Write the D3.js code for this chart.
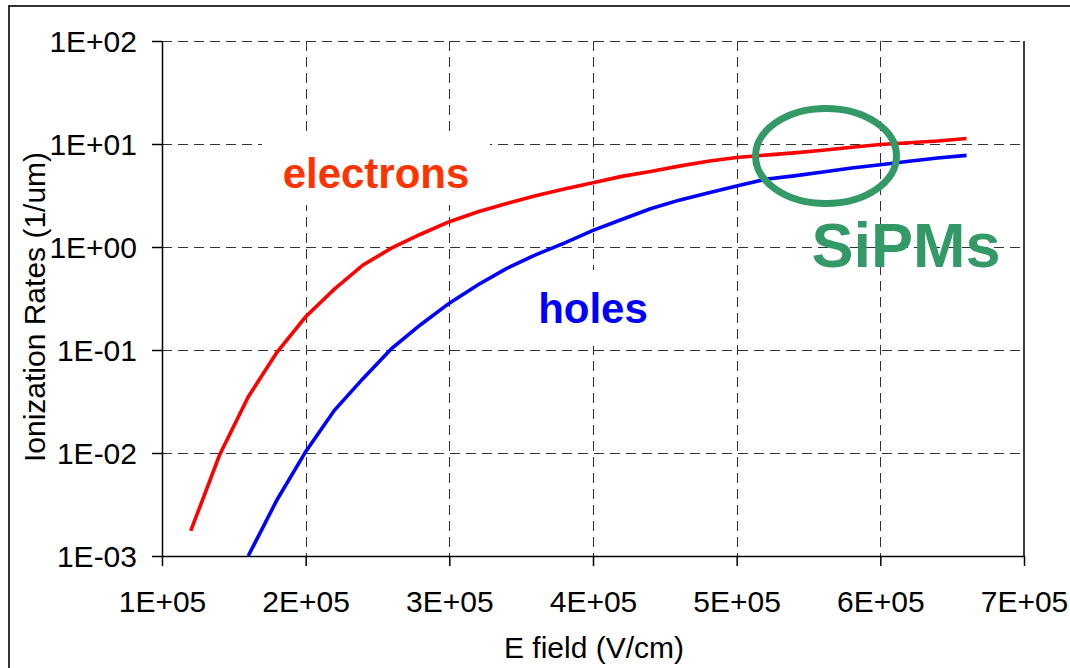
<!DOCTYPE html>
<html>
<head>
<meta charset="utf-8">
<script src="https://cdn.jsdelivr.net/npm/d3@7"></script>
<style>
  html, body { margin: 0; padding: 0; background: #fff; }
  svg { display: block; font-family: "Liberation Sans", Arial, sans-serif; }
</style>
</head>
<body>
<svg id="chart" width="1070" height="668"></svg>
<script>
// Electric field samples (V/cm)
const fieldElectrons = [1.2e5, 1.4e5, 1.6e5, 1.8e5, 2.0e5, 2.2e5, 2.4e5, 2.6e5, 2.8e5, 3.0e5,
  3.2e5, 3.4e5, 3.6e5, 3.8e5, 4.0e5, 4.2e5, 4.4e5, 4.6e5, 4.8e5, 5.0e5,
  5.2e5, 5.4e5, 5.6e5, 5.8e5, 6.0e5, 6.2e5, 6.4e5, 6.6e5];
// Electron impact ionization rate (1/um)
const rateElectrons = [1.75e-3, 9.5e-3, 0.035, 0.095, 0.21, 0.39, 0.67, 0.98, 1.33, 1.76,
  2.2, 2.65, 3.15, 3.65, 4.2, 4.85, 5.4, 6.1, 6.8, 7.4,
  7.8, 8.2, 8.7, 9.3, 9.9, 10.3, 10.7, 11.3];

const fieldHoles = [1.6e5, 1.8e5, 2.0e5, 2.2e5, 2.4e5, 2.6e5, 2.8e5, 3.0e5,
  3.2e5, 3.4e5, 3.6e5, 3.8e5, 4.0e5, 4.2e5, 4.4e5, 4.6e5, 4.8e5, 5.0e5,
  5.2e5, 5.4e5, 5.6e5, 5.8e5, 6.0e5, 6.2e5, 6.4e5, 6.6e5];
// Hole impact ionization rate (1/um)
const rateHoles = [1.0e-3, 3.5e-3, 0.0103, 0.026, 0.053, 0.104, 0.176, 0.285,
  0.43, 0.62, 0.84, 1.09, 1.45, 1.85, 2.35, 2.85, 3.35, 3.9,
  4.55, 4.9, 5.35, 5.85, 6.3, 6.8, 7.3, 7.75];

const xTicks = [1e5, 2e5, 3e5, 4e5, 5e5, 6e5, 7e5];
const xTickLabels = ["1E+05", "2E+05", "3E+05", "4E+05", "5E+05", "6E+05", "7E+05"];
const yTicks = [1e-3, 1e-2, 1e-1, 1e0, 1e1, 1e2];
const yTickLabels = ["1E-03", "1E-02", "1E-01", "1E+00", "1E+01", "1E+02"];

const svg = d3.select("#chart");
const plotLeft = 162, plotRight = 1024, plotTop = 41, plotBottom = 556;

const x = d3.scaleLinear().domain([1e5, 7e5]).range([plotLeft, plotRight]);
const y = d3.scaleLog().domain([1e-3, 1e2]).range([plotBottom, plotTop]);

// Outer frame
svg.append("rect")
  .attr("x", 9).attr("y", 6).attr("width", 1080).attr("height", 700)
  .attr("fill", "none").attr("stroke", "#333").attr("stroke-width", 2);

// Dashed grid
const grid = svg.append("g").attr("stroke", "#333").attr("stroke-width", 1)
  .attr("stroke-dasharray", "10,6").attr("shape-rendering", "crispEdges");
grid.selectAll("line.h").data(yTicks.slice(1)).join("line")
  .attr("class", "h")
  .attr("x1", plotLeft).attr("x2", plotRight)
  .attr("y1", d => Math.round(y(d)) + 0.5).attr("y2", d => Math.round(y(d)) + 0.5);
grid.selectAll("line.v").data(xTicks.slice(1, -1)).join("line")
  .attr("class", "v")
  .attr("x1", d => Math.round(x(d)) + 0.5).attr("x2", d => Math.round(x(d)) + 0.5)
  .attr("y1", plotTop).attr("y2", plotBottom);

// White backgrounds of the curve labels
svg.append("rect").attr("x", 262).attr("y", 137).attr("width", 228).attr("height", 68).attr("fill", "#fff");
svg.append("rect").attr("x", 520).attr("y", 270).attr("width", 146).attr("height", 76).attr("fill", "#fff");

// Axes
const xAxis = d3.axisBottom(x).tickValues(xTicks)
  .tickFormat((d, i) => xTickLabels[i]).tickSize(10).tickSizeOuter(0).tickPadding(24);
const gx = svg.append("g").attr("transform", `translate(0,${plotBottom})`).call(xAxis);
const yAxis = d3.axisLeft(y).tickValues(yTicks)
  .tickFormat((d, i) => yTickLabels[i]).tickSize(10).tickSizeOuter(0).tickPadding(15);
const gy = svg.append("g").attr("transform", `translate(${plotLeft},0)`).call(yAxis);
[gx, gy].forEach(g => {
  g.selectAll("path, line").attr("stroke", "#000").attr("stroke-width", 1.5);
  g.selectAll("text").attr("fill", "#000").attr("font-size", 30)
    .attr("font-family", "'Liberation Sans', Arial, sans-serif");
});
gy.selectAll("text").attr("dy", "0.36em");
gx.selectAll("text").attr("dy", "0.72em");

// Right edge of the plot area
svg.append("line").attr("x1", plotRight).attr("x2", plotRight).attr("y1", plotTop).attr("y2", plotBottom)
  .attr("stroke", "#000").attr("stroke-width", 1.5);

// Axis titles
svg.append("text").attr("x", 594).attr("y", 658).attr("text-anchor", "middle")
  .attr("font-size", 30).text("E field (V/cm)");
svg.append("text")
  .attr("transform", "translate(45,307) rotate(-90)")
  .attr("text-anchor", "middle").attr("font-size", 30).text("Ionization Rates (1/um)");

// Curves
const line = d3.line().x(d => x(d[0])).y(d => y(d[1]));
svg.append("path").datum(d3.zip(fieldElectrons, rateElectrons))
  .attr("d", line).attr("fill", "none").attr("stroke", "#ff0000").attr("stroke-width", 3.6);
svg.append("path").datum(d3.zip(fieldHoles, rateHoles))
  .attr("d", line).attr("fill", "none").attr("stroke", "#0000ff").attr("stroke-width", 3.6);

// Curve labels
svg.append("text").attr("x", 376).attr("y", 188).attr("text-anchor", "middle")
  .attr("font-size", 42).attr("font-weight", "bold").attr("fill", "#ff3300").text("electrons");
svg.append("text").attr("x", 593).attr("y", 323).attr("text-anchor", "middle")
  .attr("font-size", 42).attr("font-weight", "bold").attr("fill", "#0000ff").text("holes");

// SiPM operating region
svg.append("ellipse").attr("cx", 826).attr("cy", 156).attr("rx", 70.5).attr("ry", 47.5)
  .attr("fill", "none").attr("stroke", "#339966").attr("stroke-width", 7);
svg.append("text").attr("x", 906).attr("y", 267).attr("text-anchor", "middle")
  .attr("font-size", 63).attr("font-weight", "bold").attr("fill", "#339966").text("SiPMs");
</script>
</body>
</html>
